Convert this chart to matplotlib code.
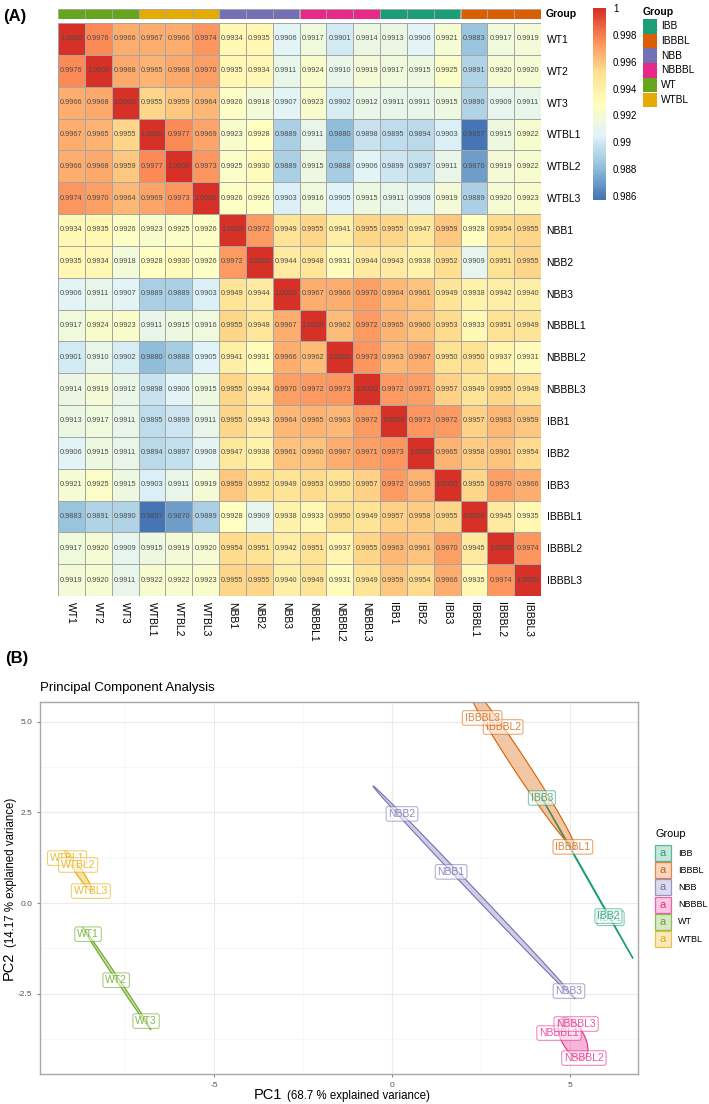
import numpy as np
import matplotlib.pyplot as plt
from matplotlib.colors import LinearSegmentedColormap, Normalize, to_rgba
from matplotlib.cm import ScalarMappable
from matplotlib.patches import Polygon, Rectangle

plt.rcParams['font.family'] = ['Liberation Sans', 'DejaVu Sans']
plt.rcParams['axes.unicode_minus'] = False

samples = ["WT1", "WT2", "WT3", "WTBL1", "WTBL2", "WTBL3", "NBB1", "NBB2", "NBB3",
           "NBBBL1", "NBBBL2", "NBBBL3", "IBB1", "IBB2", "IBB3", "IBBBL1", "IBBBL2", "IBBBL3"]
sample_group = ["WT", "WT", "WT", "WTBL", "WTBL", "WTBL", "NBB", "NBB", "NBB",
                "NBBBL", "NBBBL", "NBBBL", "IBB", "IBB", "IBB", "IBBBL", "IBBBL", "IBBBL"]
groups = ["IBB", "IBBBL", "NBB", "NBBBL", "WT", "WTBL"]
group_colors = {"IBB": "#1B9E77", "IBBBL": "#D95F02", "NBB": "#7570B3",
                "NBBBL": "#E7298A", "WT": "#66A61E", "WTBL": "#E6AB02"}

corr = [
    [1.0000, 0.9976, 0.9966, 0.9967, 0.9966, 0.9974, 0.9934, 0.9935, 0.9906, 0.9917, 0.9901, 0.9914, 0.9913, 0.9906, 0.9921, 0.9883, 0.9917, 0.9919],
    [0.9976, 1.0000, 0.9968, 0.9965, 0.9968, 0.9970, 0.9935, 0.9934, 0.9911, 0.9924, 0.9910, 0.9919, 0.9917, 0.9915, 0.9925, 0.9891, 0.9920, 0.9920],
    [0.9966, 0.9968, 1.0000, 0.9955, 0.9959, 0.9964, 0.9926, 0.9918, 0.9907, 0.9923, 0.9902, 0.9912, 0.9911, 0.9911, 0.9915, 0.9890, 0.9909, 0.9911],
    [0.9967, 0.9965, 0.9955, 1.0000, 0.9977, 0.9969, 0.9923, 0.9928, 0.9889, 0.9911, 0.9880, 0.9898, 0.9895, 0.9894, 0.9903, 0.9857, 0.9915, 0.9922],
    [0.9966, 0.9968, 0.9959, 0.9977, 1.0000, 0.9973, 0.9925, 0.9930, 0.9889, 0.9915, 0.9888, 0.9906, 0.9899, 0.9897, 0.9911, 0.9870, 0.9919, 0.9922],
    [0.9974, 0.9970, 0.9964, 0.9969, 0.9973, 1.0000, 0.9926, 0.9926, 0.9903, 0.9916, 0.9905, 0.9915, 0.9911, 0.9908, 0.9919, 0.9889, 0.9920, 0.9923],
    [0.9934, 0.9935, 0.9926, 0.9923, 0.9925, 0.9926, 1.0000, 0.9972, 0.9949, 0.9955, 0.9941, 0.9955, 0.9955, 0.9947, 0.9959, 0.9928, 0.9954, 0.9955],
    [0.9935, 0.9934, 0.9918, 0.9928, 0.9930, 0.9926, 0.9972, 1.0000, 0.9944, 0.9948, 0.9931, 0.9944, 0.9943, 0.9938, 0.9952, 0.9909, 0.9951, 0.9955],
    [0.9906, 0.9911, 0.9907, 0.9889, 0.9889, 0.9903, 0.9949, 0.9944, 1.0000, 0.9967, 0.9966, 0.9970, 0.9964, 0.9961, 0.9949, 0.9938, 0.9942, 0.9940],
    [0.9917, 0.9924, 0.9923, 0.9911, 0.9915, 0.9916, 0.9955, 0.9948, 0.9967, 1.0000, 0.9962, 0.9972, 0.9965, 0.9960, 0.9953, 0.9933, 0.9951, 0.9949],
    [0.9901, 0.9910, 0.9902, 0.9880, 0.9888, 0.9905, 0.9941, 0.9931, 0.9966, 0.9962, 1.0000, 0.9973, 0.9963, 0.9967, 0.9950, 0.9950, 0.9937, 0.9931],
    [0.9914, 0.9919, 0.9912, 0.9898, 0.9906, 0.9915, 0.9955, 0.9944, 0.9970, 0.9972, 0.9973, 1.0000, 0.9972, 0.9971, 0.9957, 0.9949, 0.9955, 0.9949],
    [0.9913, 0.9917, 0.9911, 0.9895, 0.9899, 0.9911, 0.9955, 0.9943, 0.9964, 0.9965, 0.9963, 0.9972, 1.0000, 0.9973, 0.9972, 0.9957, 0.9963, 0.9959],
    [0.9906, 0.9915, 0.9911, 0.9894, 0.9897, 0.9908, 0.9947, 0.9938, 0.9961, 0.9960, 0.9967, 0.9971, 0.9973, 1.0000, 0.9965, 0.9958, 0.9961, 0.9954],
    [0.9921, 0.9925, 0.9915, 0.9903, 0.9911, 0.9919, 0.9959, 0.9952, 0.9949, 0.9953, 0.9950, 0.9957, 0.9972, 0.9965, 1.0000, 0.9955, 0.9970, 0.9966],
    [0.9883, 0.9891, 0.9890, 0.9857, 0.9870, 0.9889, 0.9928, 0.9909, 0.9938, 0.9933, 0.9950, 0.9949, 0.9957, 0.9958, 0.9955, 1.0000, 0.9945, 0.9935],
    [0.9917, 0.9920, 0.9909, 0.9915, 0.9919, 0.9920, 0.9954, 0.9951, 0.9942, 0.9951, 0.9937, 0.9955, 0.9963, 0.9961, 0.9970, 0.9945, 1.0000, 0.9974],
    [0.9919, 0.9920, 0.9911, 0.9922, 0.9922, 0.9923, 0.9955, 0.9955, 0.9940, 0.9949, 0.9931, 0.9949, 0.9959, 0.9954, 0.9966, 0.9935, 0.9974, 1.0000],
]

cbar_ticks = [0.986, 0.988, 0.990, 0.992, 0.994, 0.996, 0.998, 1.000]
cbar_labels = ["0.986", "0.988", "0.99", "0.992", "0.994", "0.996", "0.998", "1"]

# PCA scores (PC1, PC2)
pc1 = [-8.54, -7.75, -6.91, -9.13, -8.82, -8.46, 1.66, 0.28, 4.97,
       4.69, 5.39, 5.17, 6.14, 6.08, 4.21, 5.08, 3.12, 2.53]
pc2 = [-0.86, -2.13, -3.26, 1.24, 1.05, 0.33, 0.86, 2.46, -2.43,
       -3.59, -4.28, -3.34, -0.42, -0.36, 2.90, 1.55, 4.86, 5.11]

W, H = 709, 1104
fig = plt.figure(figsize=(W / 100, H / 100), dpi=100)


def px_axes(x0, y0, x1, y1):
    return fig.add_axes([x0 / W, 1 - y1 / H, (x1 - x0) / W, (y1 - y0) / H])


# ---------- (A) heatmap ----------
cmap = LinearSegmentedColormap.from_list(
    "rdylbu_r", ["#4575B4", "#91BFDB", "#E0F3F8", "#FFFFBF", "#FEE090", "#FC8D59", "#D73027"], N=100)
C = np.array(corr)
norm = Normalize(vmin=C.min(), vmax=C.max())
n = len(samples)

ax = px_axes(58, 23, 541, 596)
ax.pcolormesh(C, cmap=cmap, norm=norm, edgecolors="#A5A5A5", linewidth=0.6)
ax.set_xlim(0, n)
ax.set_ylim(n, 0)
for i in range(n):
    for j in range(n):
        ax.text(j + 0.5, i + 0.5, f"{C[i, j]:.4f}", ha="center", va="center",
                fontsize=5.3, color="#4D4D4D")
ax.set_xticks(np.arange(n) + 0.5)
ax.set_xticklabels(samples, rotation=270, fontsize=7.5)
ax.set_yticks(np.arange(n) + 0.5)
ax.set_yticklabels(samples, fontsize=7.5)
ax.yaxis.tick_right()
ax.tick_params(length=0, pad=4)
for s in ax.spines.values():
    s.set_visible(False)

# annotation bar
bar = px_axes(58, 9, 541, 19)
bar.bar(np.arange(n), 1, width=1, align="edge",
        color=[group_colors[g] for g in sample_group], edgecolor="#A5A5A5", linewidth=0.6)
bar.set_xlim(0, n)
bar.set_ylim(0, 1)
bar.axis("off")

# colorbar
cax = px_axes(593, 8, 606, 200)
cb = fig.colorbar(ScalarMappable(norm=norm, cmap=cmap), cax=cax)
cb.outline.set_visible(False)
cb.set_ticks(cbar_ticks)
cb.set_ticklabels(cbar_labels)
cax.tick_params(length=0, labelsize=7, pad=5)

# overlay in pixel coordinates for free text and legends
ov = px_axes(0, 0, W, H)
ov.set_xlim(0, W)
ov.set_ylim(H, 0)
ov.axis("off")
ov.set_zorder(5)

ov.text(3, 17, "(A)", fontsize=12, fontweight="bold", va="center")
ov.text(5, 658, "(B)", fontsize=12, fontweight="bold", va="center")
ov.text(546, 14, "Group", fontsize=7.5, fontweight="bold", va="center")

ov.text(643, 12, "Group", fontsize=7.5, fontweight="bold", va="center")
for k, g in enumerate(groups):
    y0 = 19 + k * 14.7
    ov.add_patch(Rectangle((643, y0), 14, 14.7, fc=group_colors[g], ec="none"))
    ov.text(661, y0 + 7.3, g, fontsize=7.3, va="center")

# ---------- (B) PCA ----------
ov.text(40, 688, "Principal Component Analysis", fontsize=9.5, va="center")

pa = px_axes(40, 702, 638, 1074)
pa.set_xlim(-9.89, 6.91)
pa.set_ylim(-4.72, 5.55)
pa.set_xticks([-5, 0, 5])
pa.set_xticklabels(["-5", "0", "5"])
pa.set_xticks([-7.5, -2.5, 2.5], minor=True)
pa.set_yticks([-2.5, 0, 2.5, 5])
pa.set_yticklabels(["-2.5", "0.0", "2.5", "5.0"])
pa.set_yticks([-3.75, -1.25, 1.25, 3.75], minor=True)
pa.grid(which="major", color="#EBEBEB", linewidth=0.8)
pa.grid(which="minor", color="#F4F4F4", linewidth=0.5)
pa.set_axisbelow(True)
pa.tick_params(which="major", length=2.5, color="#8A8A8A", labelsize=6, labelcolor="#555555", pad=3)
pa.tick_params(which="minor", length=0)
for s in pa.spines.values():
    s.set_color("#A8A8A8")
    s.set_linewidth(1)

pc1_a = np.array(pc1)
pc2_a = np.array(pc2)
grp_a = np.array(sample_group)
k_ell = np.sqrt(-2 * np.log(1 - 0.5))
t = np.linspace(0, 2 * np.pi, 200)
for g in groups:
    m = grp_a == g
    pts = np.column_stack([pc1_a[m], pc2_a[m]])
    cen = pts.mean(axis=0)
    vals, vecs = np.linalg.eigh(np.cov(pts.T))
    circ = np.column_stack([np.cos(t), np.sin(t)]) * (k_ell * np.sqrt(np.maximum(vals, 0)))
    xy = cen + circ @ vecs.T
    pa.add_patch(Polygon(xy, closed=True, fc=to_rgba(group_colors[g], 0.35),
                         ec=group_colors[g], lw=0.8, zorder=2))

for name, x, y, g in zip(samples, pc1, pc2, sample_group):
    col = group_colors[g]
    pa.text(x, y, name, ha="center", va="center", fontsize=7.5,
            color=to_rgba(col, 0.8), zorder=3,
            bbox=dict(boxstyle="round,pad=0.22,rounding_size=0.2",
                      fc=(1, 1, 1, 0.55), ec=to_rgba(col, 0.55), lw=0.8))

ov.text(254, 1095, "PC1", fontsize=10.5, va="center", ha="left")
ov.text(287, 1096, "(68.7 % explained variance)", fontsize=8.3, va="center", ha="left")
ov.text(9, 966, "PC2", fontsize=10.5, va="center", ha="center", rotation=90)
ov.text(11, 872, "(14.17 % explained variance)", fontsize=8.3,
        va="center", ha="center", rotation=90)

ov.text(655, 834, "Group", fontsize=7.8, va="center")
for k, g in enumerate(groups):
    y0 = 845 + k * 17.2
    col = group_colors[g]
    ov.add_patch(Rectangle((655, y0), 16, 16, fc=to_rgba(col, 0.25), ec=to_rgba(col, 0.7), lw=0.9))
    ov.text(663, y0 + 8, "a", fontsize=8, color=col, ha="center", va="center")
    ov.text(678, y0 + 8, g, fontsize=6.5, va="center")

fig.savefig("out.png", dpi=100)
